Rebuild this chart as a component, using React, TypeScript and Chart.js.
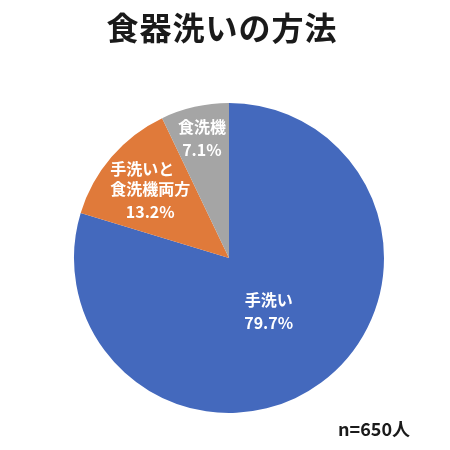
import React, { useEffect, useRef } from "react";
import { Chart, registerables } from "chart.js";

Chart.register(...registerables);

const categories = ["手洗い", "手洗いと\n食洗機両方", "食洗機"];
const values = [79.7, 13.2, 7.1];
const percentLabels = ["79.7%", "13.2%", "7.1%"];
const colors = ["#4469BD", "#E07A3A", "#A5A5A5"];
const titleText = "食器洗いの方法";
const noteText = "n=650人";

const FONT = "'Noto Sans CJK JP', 'Noto Sans', sans-serif";

const labelPlugin = {
  id: "sliceLabels",
  afterDatasetsDraw(chart: any, _args: any, opts: any) {
    const ctx = chart.ctx;
    const meta = chart.getDatasetMeta(0);
    const fracs: number[] = opts.radiusFractions;
    meta.data.forEach((arc: any, i: number) => {
      const p = arc.getProps(["x", "y", "startAngle", "endAngle", "outerRadius"], true);
      const mid = (p.startAngle + p.endAngle) / 2;
      const r = p.outerRadius * fracs[i];
      const cx = p.x + Math.cos(mid) * r;
      const cy = p.y + Math.sin(mid) * r;
      const nameLines = categories[i].split("\n");
      ctx.save();
      ctx.font = `bold 16px ${FONT}`;
      ctx.fillStyle = "#ffffff";
      ctx.textBaseline = "middle";
      const nameStep = 20;
      const pctGap = 23;
      const total = (nameLines.length - 1) * nameStep + pctGap;
      const top = cy - total / 2;
      const maxW = Math.max(...nameLines.map((l: string) => ctx.measureText(l).width));
      nameLines.forEach((line: string, j: number) => {
        if (nameLines.length > 1) {
          ctx.textAlign = "left";
          ctx.fillText(line, cx - maxW / 2, top + j * nameStep);
        } else {
          ctx.textAlign = "center";
          ctx.fillText(line, cx, top + j * nameStep);
        }
      });
      ctx.textAlign = "center";
      ctx.fillText(percentLabels[i], cx, top + (nameLines.length - 1) * nameStep + pctGap);
      ctx.restore();
    });
  },
};

const textPlugin = {
  id: "titleNote",
  afterDraw(chart: any) {
    const ctx = chart.ctx;
    ctx.save();
    ctx.fillStyle = "#1a1a1a";
    ctx.font = `bold 32px ${FONT}`;
    (ctx as any).letterSpacing = "1px";
    ctx.textAlign = "center";
    ctx.textBaseline = "middle";
    ctx.fillText(titleText, 222, 28);
    (ctx as any).letterSpacing = "0px";
    ctx.font = `bold 18px ${FONT}`;
    ctx.textAlign = "right";
    ctx.fillText(noteText, 410, 429);
    ctx.restore();
  },
};

export default function App() {
  const ref = useRef<HTMLCanvasElement>(null);
  useEffect(() => {
    document.body.style.margin = "0";
    const chart = new Chart(ref.current as HTMLCanvasElement, {
      type: "pie",
      data: {
        labels: categories,
        datasets: [
          {
            data: values,
            backgroundColor: colors,
            borderWidth: 0,
          },
        ],
      },
      options: {
        animation: false,
        responsive: false,
        layout: { padding: { top: 103, bottom: 37, left: 8, right: 0 } },
        plugins: {
          legend: { display: false },
          tooltip: { enabled: false },
          title: { display: false },
          sliceLabels: { radiusFractions: [0.43, 0.67, 0.79] },
        } as any,
      },
      plugins: [labelPlugin, textPlugin],
    });
    return () => chart.destroy();
  }, []);
  return (
    <div style={{ width: 450, height: 450, background: "#fff" }}>
      <canvas ref={ref} width={450} height={450} style={{ width: 450, height: 450, display: "block" }} />
    </div>
  );
}
